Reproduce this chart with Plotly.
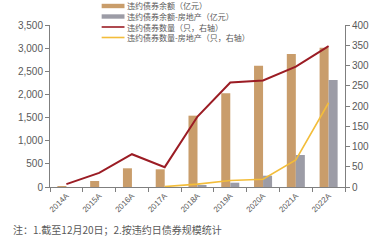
import plotly.graph_objects as go

years = ["2014A", "2015A", "2016A", "2017A", "2018A", "2019A", "2020A", "2021A", "2022A"]
bal_total = [15, 130, 404, 382, 1541, 2024, 2621, 2874, 3010]
bal_re = [None, None, None, None, 30, 93, 244, 691, 2311]
cnt_total = [7, 35, 81, 49, 174, 258, 263, 297, 348]
cnt_re = [None, None, None, 1, 7, 16, 19, 67, 208]

names = ["违约债券余额（亿元）", "违约债券余额-房地产（亿元）",
         "违约债券数量（只，右轴）", "违约债券数量-房地产（只，右轴）"]

TAN = "#C99D6B"
GRAY = "#9C9CA6"
RED = "#9B1C24"
YEL = "#F3BD3A"
AX = "#7F7F7F"
TXT = "#595959"

# plot area in pixels: x 50..347, y 25..187
L, R, T, B = 50, 347, 25, 187
def px(x):
    return (x - L) / (R - L)
def py(y):
    return (B - y) / (B - T)

fig = go.Figure()
fig.add_trace(go.Bar(x=years, y=bal_total, name=names[0], marker_color=TAN, marker_line_width=0))
fig.add_trace(go.Bar(x=years, y=bal_re, name=names[1], marker_color=GRAY, marker_line_width=0))
fig.add_trace(go.Scatter(x=years, y=cnt_total, name=names[2], mode="lines",
                         line=dict(color=RED, width=2), yaxis="y2"))
fig.add_trace(go.Scatter(x=years, y=cnt_re, name=names[3], mode="lines",
                         line=dict(color=YEL, width=1.6), yaxis="y2"))

fig.update_layout(
    width=381, height=240,
    margin=dict(l=L, r=381 - R, t=T, b=240 - B),
    paper_bgcolor="white", plot_bgcolor="white",
    font=dict(family="Noto Sans CJK SC", size=9, color=TXT),
    barmode="group", bargap=0.45, bargroupgap=0,
    showlegend=False,
    xaxis=dict(type="category", tickson="boundaries", ticks="outside", ticklen=4,
               tickcolor=AX, showline=True, linecolor=AX, linewidth=1,
               tickangle=-45, tickfont=dict(size=8, color=TXT, family="Liberation Sans"),
               showgrid=False),
    yaxis=dict(range=[0, 3500], dtick=500, tickformat=",", showgrid=False,
               showline=True, linecolor=AX, ticks="outside", ticklen=4, tickcolor=AX,
               tickfont=dict(size=10, color=TXT, family="Liberation Sans"), zeroline=False),
    yaxis2=dict(range=[0, 400], dtick=50, overlaying="y", side="right", showgrid=False,
                showline=True, linecolor=AX, ticks="outside", ticklen=4, tickcolor=AX,
                tickfont=dict(size=10, color=TXT, family="Liberation Sans"), zeroline=False),
)

# manual compact legend
leg_y = [6, 16.5, 27, 37.5]
kinds = [("bar", TAN), ("bar", GRAY), ("line", RED), ("line", YEL)]
for (kind, col), yy, nm in zip(kinds, leg_y, names):
    if kind == "bar":
        fig.add_shape(type="rect", xref="paper", yref="paper",
                      x0=px(102), x1=px(125), y0=py(yy + 2.2), y1=py(yy - 2.2),
                      fillcolor=col, line_width=0)
    else:
        fig.add_shape(type="line", xref="paper", yref="paper",
                      x0=px(102), x1=px(125), y0=py(yy), y1=py(yy),
                      line=dict(color=col, width=1.6))
    fig.add_annotation(text=nm, xref="paper", yref="paper", x=px(127), y=py(yy),
                       xanchor="left", yanchor="middle", showarrow=False,
                       font=dict(size=8, color=TXT), borderpad=0)

fig.add_annotation(text="注：1.截至12月20日；2.按违约日债券规模统计", xref="paper", yref="paper",
                   x=px(11), y=py(229), xanchor="left", yanchor="middle", showarrow=False,
                   font=dict(size=10, color=TXT))

fig.write_html("out.html")
